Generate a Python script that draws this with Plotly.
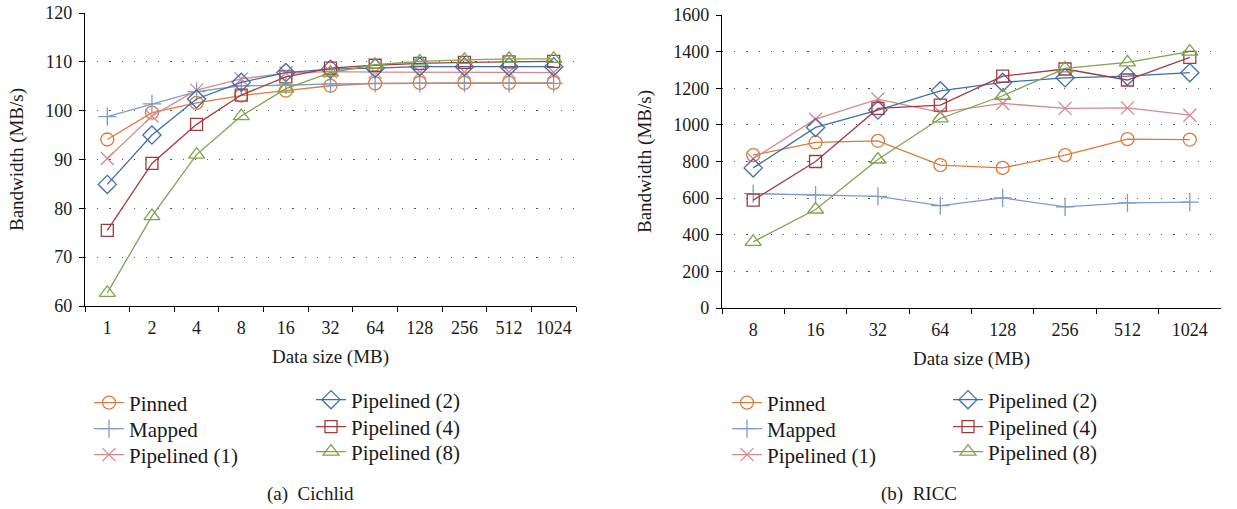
import plotly.graph_objects as go

# ---------------- data ----------------
cichlid_sizes = ["1", "2", "4", "8", "16", "32", "64", "128", "256", "512", "1024"]
cichlid_pinned = [94.1, 99.6, 101.6, 103.1, 104.1, 105.1, 105.6, 105.7, 105.7, 105.7, 105.7]
cichlid_mapped = [98.8, 101.4, 103.9, 105.1, 105.2, 105.5, 105.6, 105.6, 105.6, 105.6, 105.6]
cichlid_pipe1 = [90.2, 98.9, 104.2, 106.5, 107.7, 108.0, 107.9, 107.9, 107.9, 107.9, 107.8]
cichlid_pipe2 = [84.9, 95.0, 102.4, 105.8, 107.8, 108.5, 108.7, 109.0, 109.0, 109.0, 109.0]
cichlid_pipe4 = [75.5, 89.2, 97.2, 103.2, 106.9, 108.7, 109.3, 109.7, 109.9, 110.0, 110.1]
cichlid_pipe8 = [62.7, 78.4, 91.0, 98.9, 104.5, 107.8, 109.4, 110.1, 110.4, 110.6, 110.6]

ricc_sizes = ["8", "16", "32", "64", "128", "256", "512", "1024"]
ricc_pinned = [835, 904, 913, 780, 765, 835, 922, 920]
ricc_mapped = [625, 616, 610, 559, 601, 552, 574, 578]
ricc_pipe1 = [815, 1031, 1141, 1068, 1117, 1090, 1093, 1053]
ricc_pipe2 = [765, 986, 1081, 1186, 1232, 1257, 1266, 1285]
ricc_pipe4 = [589, 800, 1090, 1108, 1266, 1305, 1245, 1369]
ricc_pipe8 = [361, 538, 811, 1035, 1159, 1308, 1341, 1400]

series_names = ["Pinned", "Mapped", "Pipelined (1)", "Pipelined (2)", "Pipelined (4)", "Pipelined (8)"]
colors = ["#DC7B3C", "#7E9BC9", "#D38A8E", "#3F6EA9", "#A23B3E", "#80A34E"]
symbols = ["circle-open", "cross-thin-open", "x-thin-open", "diamond-open", "square-open", "triangle-up-open"]
sizes = [13, 13, 13, 14, 12, 14]

FONT = "Liberation Serif, Times New Roman, serif"
W, H = 1237, 509

# legend layout (pixel positions of each entry: left edge, row centre)
left_leg_pos = [(89, 403), (89, 429), (89, 455), (311, 400), (311, 427), (311, 452)]
right_leg_pos = [(727, 403), (727, 429), (727, 455), (948, 400), (948, 427), (948, 452)]

fig = go.Figure()

left_data = [cichlid_pinned, cichlid_mapped, cichlid_pipe1, cichlid_pipe2, cichlid_pipe4, cichlid_pipe8]
right_data = [ricc_pinned, ricc_mapped, ricc_pipe1, ricc_pipe2, ricc_pipe4, ricc_pipe8]

legend_layouts = {}
leg_common = dict(
    orientation="v", xanchor="left", yanchor="middle",
    bgcolor="rgba(0,0,0,0)", borderwidth=0,
    font=dict(family=FONT, size=21, color="#1a1a1a"),
    tracegroupgap=0, itemwidth=30,
)

k = 0
for panel, (sizes_x, data, pos, xa, ya) in enumerate([
        (cichlid_sizes, left_data, left_leg_pos, "x", "y"),
        (ricc_sizes, right_data, right_leg_pos, "x2", "y2")]):
    for i, (name, ys) in enumerate(zip(series_names, data)):
        k += 1
        lname = "legend" if k == 1 else f"legend{k}"
        fig.add_trace(go.Scatter(
            x=sizes_x, y=ys, name=name, mode="lines+markers",
            line=dict(color=colors[i], width=1.3),
            marker=dict(symbol=symbols[i], size=sizes[i], color=colors[i],
                        line=dict(color=colors[i], width=1.3)),
            xaxis=xa, yaxis=ya, legend=lname, showlegend=True,
        ))
        px, py = pos[i]
        legend_layouts[lname] = dict(x=px / W, y=1 - py / H, **leg_common)

tickfont = dict(family=FONT, size=18, color="#1a1a1a")
titlefont = dict(family=FONT, size=19, color="#1a1a1a")

def xaxis(domain, anchor, n):
    return dict(
        domain=domain, anchor=anchor, type="category",
        range=[-0.5, n - 0.5], tickson="boundaries", tickangle=0,
        ticks="outside", ticklen=5, tickwidth=1.2, tickcolor="black",
        showline=True, linecolor="black", linewidth=1.4, ticklabelstandoff=5,
        showgrid=False, zeroline=False, tickfont=tickfont, automargin=False,
        title=dict(text="Data size (MB)", font=titlefont, standoff=12),
    )

def yaxis(domain, anchor, rng, dtick):
    return dict(
        domain=domain, anchor=anchor, range=rng, dtick=dtick,
        ticks="outside", ticklen=5, tickwidth=1.2, tickcolor="black",
        showline=True, linecolor="black", linewidth=1.4, ticklabelstandoff=3,
        showgrid=True, gridcolor="#555555", gridwidth=1.2, griddash="1.2px,11px",
        zeroline=False, tickfont=tickfont, automargin=False,
        title=dict(text="Bandwidth (MB/s)", font=titlefont, standoff=16),
    )

fig.update_layout(
    template="none",
    showlegend=True,
    width=W, height=H,
    margin=dict(l=0, r=0, t=0, b=0, autoexpand=False),
    paper_bgcolor="white", plot_bgcolor="white",
    font=dict(family=FONT, size=19, color="#1a1a1a"),
    xaxis=xaxis([85 / W, 576 / W], "y", len(cichlid_sizes)),
    yaxis=yaxis([1 - 306 / H, 1 - 13 / H], "x", [60, 120], 10),
    xaxis2=xaxis([722 / W, 1221 / W], "y2", len(ricc_sizes)),
    yaxis2=yaxis([1 - 308 / H, 1 - 15 / H], "x2", [0, 1600], 200),
    **legend_layouts,
)

fig.add_annotation(text="(a)  Cichlid", x=310 / W, y=1 - 494 / H, xref="paper", yref="paper",
                   xanchor="center", yanchor="middle",
                   showarrow=False, font=dict(family=FONT, size=19, color="#1a1a1a"))
fig.add_annotation(text="(b)  RICC", x=919 / W, y=1 - 494 / H, xref="paper", yref="paper",
                   xanchor="center", yanchor="middle",
                   showarrow=False, font=dict(family=FONT, size=19, color="#1a1a1a"))

fig.write_html("out.html", config={"displayModeBar": False},
               post_script="document.body.style.margin='0';document.body.style.overflow='hidden';")
